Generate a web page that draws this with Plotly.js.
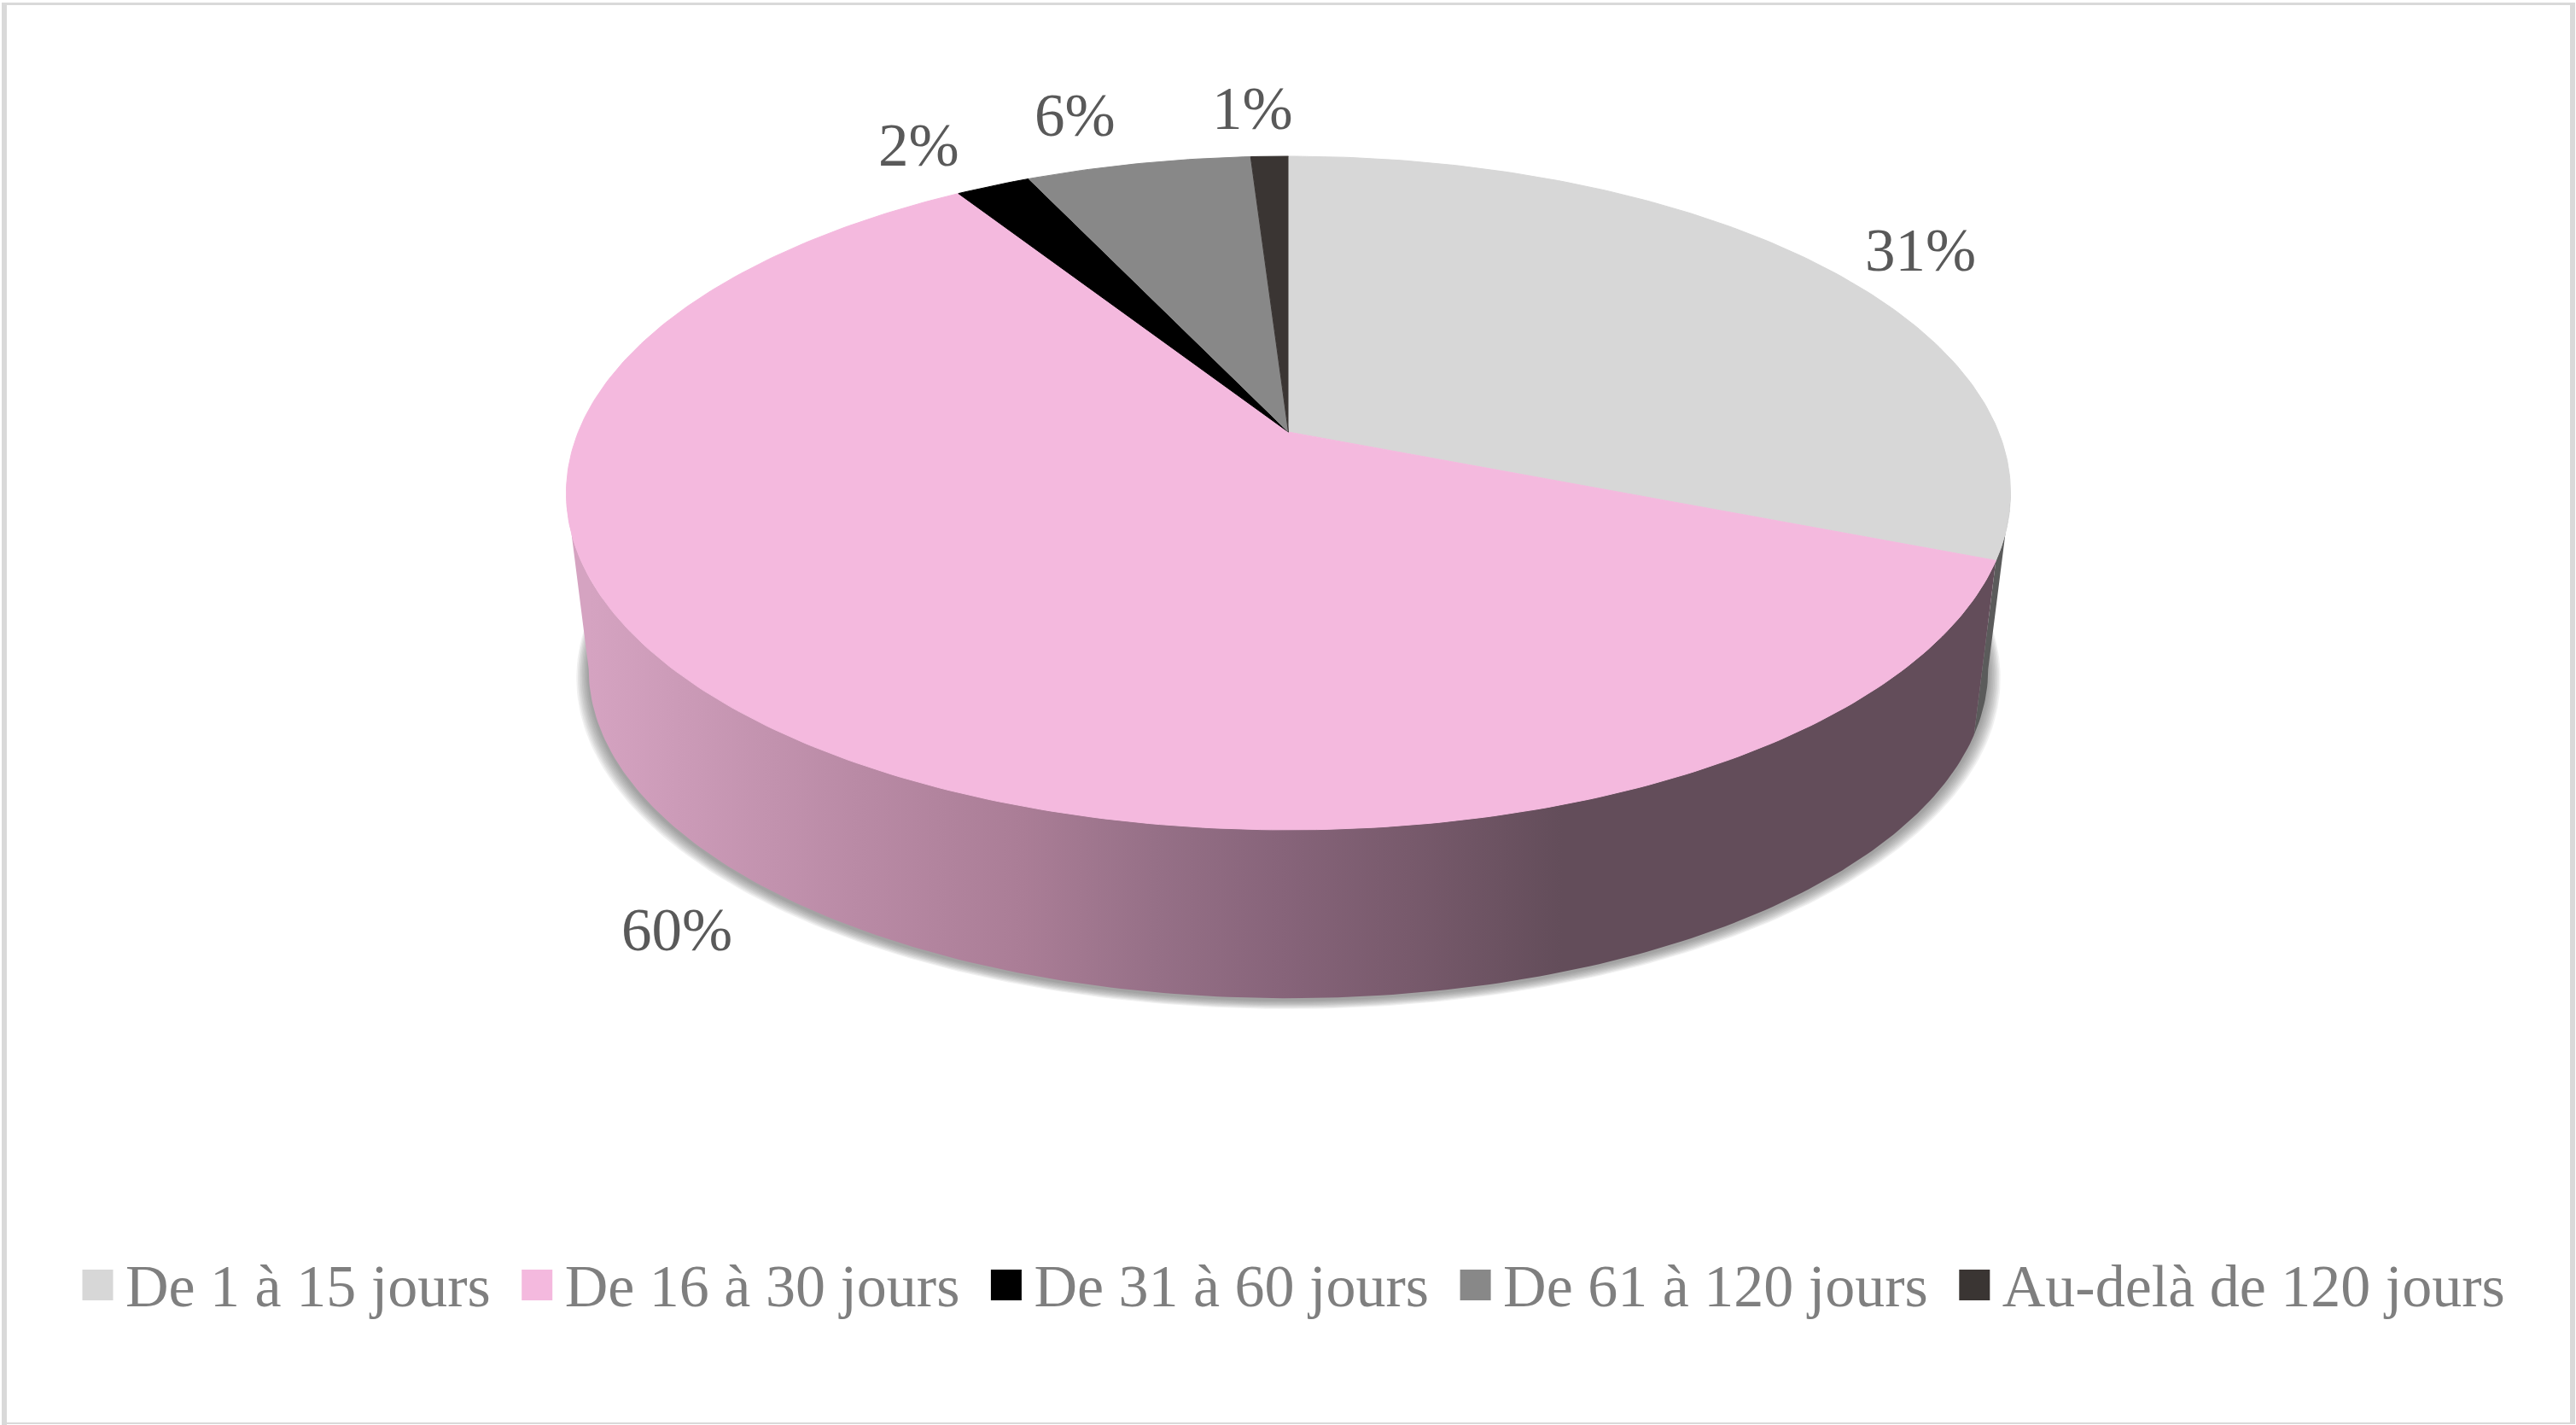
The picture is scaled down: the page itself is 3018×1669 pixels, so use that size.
<!DOCTYPE html>
<html>
<head>
<meta charset="utf-8">
<script src="https://cdn.plot.ly/plotly-3.0.1.min.js"></script>
<style>html,body{margin:0;padding:0;background:#fff}#chart{width:3018px;height:1669px}</style>
</head>
<body>
<div id="chart"></div>
<script>
// ---- data ----
const categories = ['De 1 à 15 jours', 'De 16 à 30 jours', 'De 31 à 60 jours', 'De 61 à 120 jours', 'Au-delà de 120 jours'];
const values = [31, 60, 2, 6, 1];
// ---- styles ----
const sliceColors = ['#d7d7d7', '#f4b9de', '#000000', '#888888', '#3a3533'];
const wallColor = ['#5b5b5b', null, '#000000', '#888888', '#3a3533'];
const wallStopX = [690, 1007, 1200, 1353, 1500, 1650, 1830, 2340];
const wallStopC = ['#d5a3c1', '#b98aa5', '#aa7d96', '#967087', '#87647a', '#785a6c', '#634d5a', '#634d5a'];
const labelX = [2250, 793, 1076, 1259, 1467];
const labelY = [293, 1089, 170, 135, 127];
const serif = '"Liberation Serif", serif';
const legendEntryGapExtra = 21;

// ---- projection of the pie disc (perspective) ----
const W = 3018, H = 1669;
const cx = 1509.5, k = 0.1812, R = 832, S = 381.5;
const topDisc = {cy: 506, sx: 1, sy: 1};
const lowDisc = {cy: 714, sx: 0.969, sy: 0.977};
function proj(deg, d) {
  const t = deg * Math.PI / 180, u = Math.sin(t), v = -Math.cos(t), w = 1 - k * v;
  return [cx + d.sx * R * u / w, d.cy + d.sy * S * v / w];
}
function arc(a, b, d) {
  const n = Math.max(2, Math.ceil(Math.abs(b - a) / 0.75)), pts = [];
  for (let i = 0; i <= n; i++) pts.push(proj(a + (b - a) * i / n, d));
  return pts;
}
const total = values.reduce((s, v) => s + v, 0);
let acc = 0;
const spans = values.map(v => { const a = acc / total * 360; acc += v; return [a, acc / total * 360]; });
const visA = 180 - Math.acos(k) * 180 / Math.PI, visB = 360 - visA;

const traces = [];
const base = {type: 'scatter', mode: 'lines', fill: 'toself', hoverinfo: 'skip', showlegend: false};

// soft shadow under the lower rim
const shadowSteps = 9;
for (let j = shadowSteps; j >= 1; j--) {
  const d = {cy: lowDisc.cy + 2 + j * 0.9, sx: lowDisc.sx + 0.0019 * j, sy: lowDisc.sy + 0.0006 * j};
  const p = arc(visA - 20, visB + 20, d);
  traces.push(Object.assign({}, base, {
    x: p.map(q => q[0]), y: p.map(q => q[1]),
    line: {width: 0}, fillcolor: 'rgba(90,90,90,0.085)'
  }));
}
// side wall
spans.forEach((s, i) => {
  const a = Math.max(s[0], visA), b = Math.min(s[1], visB);
  if (b <= a) return;
  const p = arc(a, b, topDisc).concat(arc(b, a, lowDisc));
  const tr = Object.assign({}, base, {x: p.map(q => q[0]), y: p.map(q => q[1]), line: {width: 0}});
  if (wallColor[i]) tr.fillcolor = wallColor[i];
  else {
    const x0 = wallStopX[0], x1 = wallStopX[wallStopX.length - 1];
    tr.fillgradient = {type: 'horizontal', start: x0, stop: x1,
      colorscale: wallStopX.map((x, n) => [(x - x0) / (x1 - x0), wallStopC[n]])};
  }
  traces.push(tr);
});
// top face
spans.forEach((s, i) => {
  const p = [proj(0, {cy: topDisc.cy, sx: 0, sy: 0})].concat(arc(s[0], s[1], topDisc));
  traces.push(Object.assign({}, base, {
    name: categories[i], x: p.map(q => q[0]), y: p.map(q => q[1]),
    line: {width: 1, color: sliceColors[i]}, fillcolor: sliceColors[i]
  }));
});
// legend entries
categories.forEach((c, i) => {
  traces.push({type: 'scatter', mode: 'markers', name: c, x: [null], y: [null], hoverinfo: 'skip',
    marker: {symbol: 'square', size: 16, color: sliceColors[i], line: {width: 0}}});
});

const frame = [[2, 3, 8, H], [2, 3, W - 1, 6], [3011, 3, W - 1, H - 1], [2, 1666, W - 1, H - 1]];
const layout = {
  width: W, height: H, margin: {l: 0, r: 0, t: 0, b: 0, pad: 0},
  paper_bgcolor: '#fff', plot_bgcolor: '#fff',
  xaxis: {range: [0, W], visible: false, fixedrange: true},
  yaxis: {range: [H, 0], visible: false, fixedrange: true},
  font: {family: serif},
  showlegend: true,
  legend: {orientation: 'h', x: 86 / W, y: 1 - 1503 / H, xanchor: 'left', yanchor: 'middle',
    itemwidth: 51, bgcolor: 'rgba(0,0,0,0)', borderwidth: 0, traceorder: 'normal',
    font: {family: serif, size: 70, color: '#7f7f7f'}},
  shapes: frame.map(f => ({type: 'rect', xref: 'x', yref: 'y', x0: f[0], y0: f[1], x1: f[2], y1: f[3],
    line: {width: 0}, fillcolor: '#d9d9d9', layer: 'below'})),
  annotations: values.map((v, i) => ({
    xref: 'x', yref: 'y', x: labelX[i], y: labelY[i], text: v + '%', showarrow: false,
    xanchor: 'center', yanchor: 'middle',
    font: {family: serif, size: 71, color: '#595959'}
  }))
};
Plotly.newPlot('chart', traces, layout, {displayModeBar: false, staticPlot: true}).then(gd => {
  gd.querySelectorAll('.legend .legendpoints path').forEach(p => {
    const t = p.getAttribute('transform') || '';
    p.setAttribute('transform', t + ' translate(-2,2) scale(2.25)');
  });
  const box = gd.querySelector('.legend .scrollbox');
  if (box) box.removeAttribute('clip-path');
  gd.querySelectorAll('.legend .traces').forEach((g, i) => {
    const m = /translate\(([-\d.]+)[ ,]+([-\d.]+)\)/.exec(g.getAttribute('transform') || '');
    if (m) g.setAttribute('transform', 'translate(' + (+m[1] + i * legendEntryGapExtra) + ',' + m[2] + ')');
  });
});
</script>
</body>
</html>
